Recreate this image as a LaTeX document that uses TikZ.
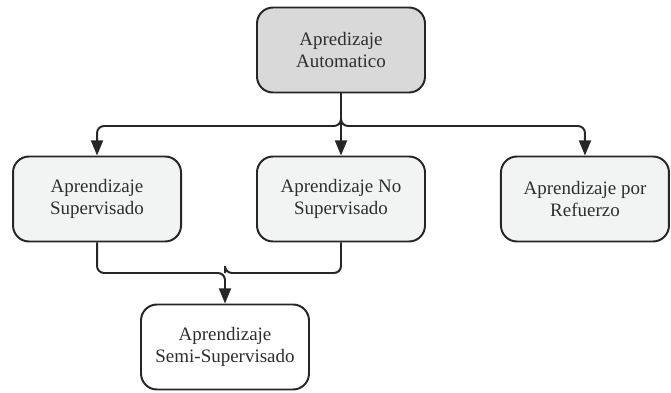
\documentclass[tikz,border=0pt]{standalone}
\usepackage{fontspec}
\setmainfont{Liberation Serif}
\usetikzlibrary{arrows.meta,positioning}
\definecolor{boxgray}{HTML}{D9D9D9}
\definecolor{boxlight}{HTML}{F2F3F3}
\definecolor{inkgray}{HTML}{2E2E2E}

\begin{document}
\begin{tikzpicture}[node distance=3.725cm,>={Triangle[length=3.8mm,width=3mm]},line width=1.4pt]
  \tikzstyle{concept}=[rectangle,rounded corners=0.4cm,draw=black!85,fill=white,
  		       minimum width=4.2cm,minimum height=2.125cm,align=center,
  		       text=inkgray,font=\fontsize{13.5}{15.6}\selectfont]
  \tikzstyle{root}=[concept,fill=boxgray]
  \tikzstyle{branch}=[concept,fill=boxlight]
  \tikzstyle{link}=[draw=black!85,rounded corners=5pt]
  \useasboundingbox (0,0) rectangle (16.775,9.8);
  \node [root] (am) at (8.525,8.55) {Apredizaje\\Automatico};
  \node [branch] (ns) [below of=am] {Aprendizaje No\\Supervisado};
  \node [branch] (sup) [left=1.85cm of ns] {Aprendizaje\\Supervisado};
  \node [branch] (ref) [right=1.85cm of ns] {Aprendizaje por\\Refuerzo};
  \node [concept] (semi) at (5.625,1.125) {Aprendizaje\\Semi-Supervisado};
  \coordinate (bus) at (0,6.65);
  \coordinate (join) at (0,2.975);
  % salidas del nodo raiz
  \draw [link,->] (am.south) -- (am.south |- bus) -| (sup.north);
  \draw [link,->] (am.south) -- (am.south |- bus) -| (ref.north);
  \draw [link,->] (am) -- (ns);
  % union hacia semi-supervisado
  \draw [link,->] (sup.south) -- (sup.south |- join) -| (semi.north);
  \draw [link] (ns.south) -- (ns.south |- join) -| (semi.north |- join);
\end{tikzpicture}
\end{document}
